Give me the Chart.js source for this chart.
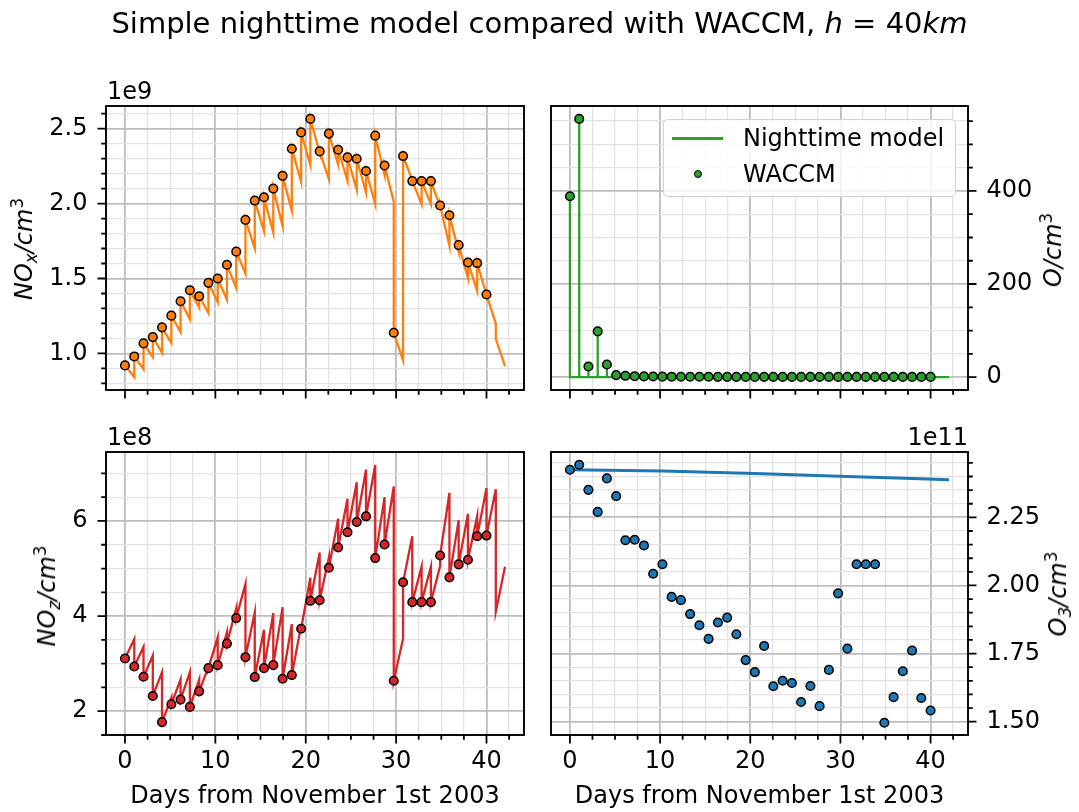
<!DOCTYPE html>
<html>
<head>
<meta charset="utf-8">
<script src="https://cdn.jsdelivr.net/npm/chart.js@4.4.1/dist/chart.umd.min.js"></script>
<style>
  body { margin: 0; background: #fff; }
  #fig { position: relative; width: 1079px; height: 812px; overflow: hidden; font-family: "DejaVu Sans", sans-serif; color: #000; }
  #fig canvas { position: absolute; left: 0; top: 0; }
  .txt { position: absolute; white-space: nowrap; font-size: 24px; line-height: 1; }
  .ylab { position: absolute; white-space: nowrap; font-size: 24px; line-height: 1; transform: translate(-50%, -50%) rotate(-90deg); }
  .ylab i, .title i { font-style: italic; }
  sub, sup { font-size: 70%; line-height: 0; position: relative; vertical-align: baseline; font-style: italic; }
  sub { top: 0.3em; }
  sup { top: -0.55em; font-style: normal; }
  #legendBox { position: absolute; left: 663px; top: 119px; width: 293px; height: 78px; box-sizing: border-box;
    border: 1.5px solid rgba(204,204,204,0.9); border-radius: 5px; background: rgba(255,255,255,0.8); }
</style>
</head>
<body>
<div id="fig">
  <canvas id="cNox" width="1079" height="812"></canvas>
  <canvas id="cOx" width="1079" height="812"></canvas>
  <canvas id="cNoz" width="1079" height="812"></canvas>
  <canvas id="cO3" width="1079" height="812"></canvas>

  <div class="txt title" style="left:539.5px; top:9px; font-size:29px; transform:translateX(-50%);">Simple nighttime model compared with WACCM, <i>h</i> = 40<i>km</i></div>

  <div class="txt" style="left:107px; top:79px;">1e9</div>
  <div class="txt" style="left:107px; top:425px;">1e8</div>
  <div class="txt" style="right:111px; top:425px;">1e11</div>

  <div class="ylab" style="left:24px; top:249px;"><i>NO<sub>x</sub>/cm</i><sup>3</sup></div>
  <div class="ylab" style="left:47px; top:596px;"><i>NO<sub>z</sub>/cm</i><sup>3</sup></div>
  <div class="ylab" style="left:1053px; top:250px;"><i>O/cm</i><sup>3</sup></div>
  <div class="ylab" style="left:1058px; top:594px;"><i>O<sub>3</sub>/cm</i><sup>3</sup></div>

  <div id="legendBox"></div>
  <div style="position:absolute; left:672px; top:137px; width:51px; height:2.5px; background:#2ca02c;"></div>
  <div class="txt" style="left:743px; top:126px;">Nighttime model</div>
  <div style="position:absolute; left:694px; top:170px; width:8px; height:8px; box-sizing:border-box; border:1.3px solid #000; border-radius:50%; background:#2ca02c;"></div>
  <div class="txt" style="left:743px; top:162px;">WACCM</div>
</div>

<script>
// model output times (days since 2003-11-01); WACCM samples sit on the first 40
const days = [0, 1.03, 2.05, 3.08, 4.10, 5.13, 6.15, 7.18, 8.21, 9.23, 10.26, 11.28, 12.31, 13.33,
  14.36, 15.38, 16.41, 17.44, 18.46, 19.49, 20.51, 21.54, 22.56, 23.59, 24.62, 25.64, 26.67, 27.69,
  28.72, 29.74, 30.77, 31.79, 32.82, 33.85, 34.87, 35.90, 36.92, 37.95, 38.97, 40.00, 41.03, 42.05];

// NOx, units of 1e9 cm^-3
const noxWaccm = [0.920, 0.980, 1.067, 1.109, 1.174, 1.252, 1.348, 1.422, 1.382, 1.471, 1.500, 1.592,
  1.679, 1.891, 2.020, 2.042, 2.100, 2.185, 2.366, 2.475, 2.565, 2.348, 2.467, 2.359, 2.308, 2.299,
  2.217, 2.453, 2.254, 1.138, 2.317, 2.150, 2.150, 2.150, 1.987, 1.922, 1.723, 1.607, 1.603, 1.393];
const noxNightStart = [...noxWaccm, 1.098];
const noxNightEnd = [0.842, 0.895, 0.975, 1.004, 1.069, 1.143, 1.228, 1.306, 1.270, 1.342, 1.359, 1.437,
  1.533, 1.701, 1.817, 1.806, 1.850, 1.953, 2.145, 2.257, 2.340, 2.163, 2.259, 2.152, 2.092, 2.074,
  1.996, 2.192, 2.013, 0.953, 2.155, 1.996, 1.996, 1.980, 1.719, 1.679, 1.504, 1.417, 1.390, 1.199, 0.915];

// O, cm^-3
const oxWaccm = [388.5, 554.8, 22.9, 98.2, 27.2, 4.3, 2.8, 2.0, 1.5, 1.2, 1.0, 0.9, 0.8, 0.8, 0.7, 0.7,
  0.6, 0.6, 0.6, 0.5, 0.5, 0.5, 0.5, 0.5, 0.5, 0.5, 0.5, 0.5, 0.5, 0.5, 0.5, 0.5, 0.5, 0.5, 0.5, 0.5,
  0.5, 0.5, 0.5, 0.5];
const oxNightStart = [...oxWaccm, 2.0];

// NOz, units of 1e8 cm^-3
const nozWaccm = [3.108, 2.941, 2.725, 2.321, 1.770, 2.146, 2.244, 2.091, 2.418, 2.906, 2.969, 3.422,
  3.958, 3.136, 2.718, 2.906, 2.969, 2.683, 2.760, 3.735, 4.321, 4.334, 5.017, 5.443, 5.763, 5.979,
  6.098, 5.220, 5.505, 2.641, 4.711, 4.293, 4.293, 4.293, 5.275, 4.815, 5.087, 5.185, 5.679, 5.693];
const nozNightStart = [...nozWaccm, 4.091];
const nozNightEnd = [3.519, 3.352, 3.171, 2.822, 2.280, 2.669, 2.822, 2.669, 2.930, 3.554, 3.659, 4.167,
  4.676, 4.077, 3.714, 4.063, 4.188, 3.833, 3.800, 4.808, 5.338, 5.233, 6.049, 6.467, 6.815, 7.080,
  7.178, 6.502, 6.725, 3.526, 5.679, 5.038, 5.038, 5.050, 6.592, 6.014, 6.153, 6.105, 6.690, 6.669, 5.038];

// O3, units of 1e11 cm^-3
const o3Waccm = [2.425, 2.443, 2.351, 2.270, 2.393, 2.328, 2.166, 2.168, 2.147, 2.043, 2.078, 1.958,
  1.946, 1.895, 1.854, 1.804, 1.864, 1.882, 1.821, 1.726, 1.682, 1.778, 1.630, 1.650, 1.642, 1.572,
  1.631, 1.557, 1.690, 1.971, 1.768, 2.078, 2.078, 2.078, 1.496, 1.590, 1.685, 1.761, 1.587, 1.541];
const o3ModelDays = [0, 10.26, 20.51, 30.77, 37.95, 42.05];
const o3Model = [2.425, 2.420, 2.411, 2.400, 2.393, 2.388];

const W = 1079, H = 812;
const Y_W = 90, X_H = 76;
const GRID_MAJOR = '#bdbdbd';
const GRID_MINOR = '#e3e3e3';

Chart.defaults.font.family = '"DejaVu Sans", sans-serif';
Chart.defaults.font.size = 24;
Chart.defaults.color = '#000';

const isMajor = (v, step) => Math.abs(v / step - Math.round(v / step)) < 1e-6;

function waccmPoints(vals) {
  return vals.map((v, i) => ({ x: days[i], y: v }));
}

// each night starts from the WACCM value and runs to the next sample time
function nightLine(starts, ends) {
  const pts = [];
  starts.forEach((s, i) => {
    pts.push({ x: days[i], y: s }, { x: days[i + 1], y: ends[i] });
  });
  return pts;
}

// atomic oxygen is gone almost immediately after sunset
function oxygenLine(starts) {
  const pts = [];
  starts.forEach((s, i) => {
    pts.push({ x: days[i], y: s }, { x: days[i], y: 0 }, { x: days[i + 1], y: 0 });
  });
  return pts;
}

// box frame plus major/minor tick marks drawn outside the plot area
function framePlugin(xMajor, yMajor, ySide) {
  return {
    id: 'frame',
    afterDraw(chart) {
      const { ctx, chartArea: a } = chart;
      ctx.save();
      ctx.strokeStyle = '#000';
      ctx.lineWidth = 1.9;
      ctx.strokeRect(a.left, a.top, a.right - a.left, a.bottom - a.top);
      ctx.lineWidth = 1.8;
      ctx.beginPath();
      chart.scales.x.ticks.forEach(t => {
        const px = chart.scales.x.getPixelForValue(t.value);
        const len = isMajor(t.value, xMajor) ? 8.5 : 4.8;
        ctx.moveTo(px, a.bottom); ctx.lineTo(px, a.bottom + len);
      });
      chart.scales.y.ticks.forEach(t => {
        const py = chart.scales.y.getPixelForValue(t.value);
        const len = isMajor(t.value, yMajor) ? 8.5 : 4.8;
        if (ySide === 'left') { ctx.moveTo(a.left, py); ctx.lineTo(a.left - len, py); }
        else { ctx.moveTo(a.right, py); ctx.lineTo(a.right + len, py); }
      });
      ctx.stroke();
      ctx.restore();
    }
  };
}

function makePanel(id, box, cfg) {
  const padLeft = cfg.ySide === 'left' ? box.l - Y_W : box.l;
  const padRight = cfg.ySide === 'right' ? W - box.r - Y_W : W - box.r;
  return new Chart(document.getElementById(id), {
    type: 'scatter',
    data: { datasets: cfg.datasets },
    options: {
      responsive: false,
      animation: false,
      layout: { padding: { left: padLeft, right: padRight, top: box.t, bottom: H - box.b - X_H } },
      plugins: { legend: { display: false }, tooltip: { enabled: false } },
      scales: {
        x: {
          type: 'linear', position: 'bottom', min: -2.1, max: 44.15,
          afterFit: s => { s.height = X_H; },
          border: { display: false },
          grid: {
            drawTicks: false,
            color: c => isMajor(c.tick.value, 10) ? GRID_MAJOR : GRID_MINOR,
            lineWidth: c => isMajor(c.tick.value, 10) ? 1.8 : 1.3
          },
          ticks: {
            stepSize: 2.5, includeBounds: false, autoSkip: false, maxRotation: 0, padding: 12,
            callback: v => (cfg.xLabels && isMajor(v, 10)) ? String(Math.round(v)) : ''
          },
          title: { display: cfg.xLabels, text: 'Days from November 1st 2003', padding: 0 }
        },
        y: {
          type: 'linear', position: cfg.ySide, min: cfg.yMin, max: cfg.yMax,
          afterFit: s => { s.width = Y_W; },
          border: { display: false },
          grid: {
            drawTicks: false,
            color: c => isMajor(c.tick.value, cfg.yMajor) ? GRID_MAJOR : GRID_MINOR,
            lineWidth: c => isMajor(c.tick.value, cfg.yMajor) ? 1.8 : 1.3
          },
          ticks: {
            stepSize: cfg.yMinor, includeBounds: false, autoSkip: false, padding: 18.5,
            callback: v => isMajor(v, cfg.yMajor) ? v.toFixed(cfg.yDecimals) : ''
          }
        }
      }
    },
    plugins: [framePlugin(10, cfg.yMajor, cfg.ySide)]
  });
}

function dots(vals, color) {
  return { data: waccmPoints(vals), backgroundColor: color, borderColor: '#000', pointRadius: 4.3,
    pointBorderWidth: 1.5, pointBorderColor: '#000', pointBackgroundColor: color, order: 0 };
}
function line(pts, color, width) {
  return { data: pts, showLine: true, borderColor: color, borderWidth: width, pointRadius: 0,
    tension: 0, order: 1 };
}

makePanel('cNox', { l: 106, t: 106, r: 524, b: 390 }, {
  ySide: 'left', yMin: 0.756, yMax: 2.651, yMajor: 0.5, yMinor: 0.1, yDecimals: 1, xLabels: false,
  datasets: [dots(noxWaccm, '#ff7f0e'), line(nightLine(noxNightStart, noxNightEnd), '#ff7f0e', 2.3)]
});

makePanel('cOx', { l: 551, t: 106, r: 968, b: 390 }, {
  ySide: 'right', yMin: -27.7, yMax: 582.5, yMajor: 200, yMinor: 50, yDecimals: 0, xLabels: false,
  datasets: [dots(oxWaccm, '#2ca02c'), line(oxygenLine(oxNightStart), '#2ca02c', 2.3)]
});

makePanel('cNoz', { l: 106, t: 452, r: 524, b: 735 }, {
  ySide: 'left', yMin: 1.50, yMax: 7.45, yMajor: 2, yMinor: 0.5, yDecimals: 0, xLabels: true,
  datasets: [dots(nozWaccm, '#d62728'), line(nightLine(nozNightStart, nozNightEnd), '#d62728', 2.3)]
});

makePanel('cO3', { l: 551, t: 452, r: 968, b: 735 }, {
  ySide: 'right', yMin: 1.451, yMax: 2.490, yMajor: 0.25, yMinor: 0.05, yDecimals: 2, xLabels: true,
  datasets: [dots(o3Waccm, '#1f77b4'),
    line(o3ModelDays.map((d, i) => ({ x: d, y: o3Model[i] })), '#1f77b4', 3)]
});
</script>
</body>
</html>
